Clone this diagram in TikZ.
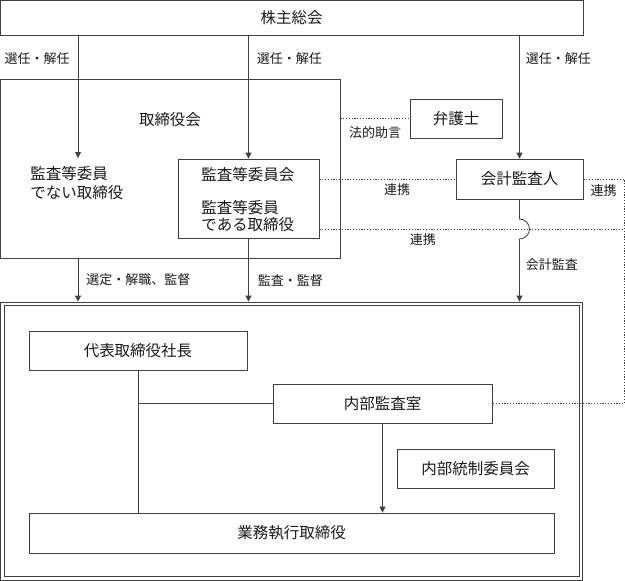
\documentclass[tikz,border=0pt]{standalone}
\usepackage{fontspec}
\setmainfont{Noto Sans CJK JP}
\usetikzlibrary{arrows.meta,calc,positioning}
\newcommand{\boxfont}{\fontsize{15.5}{19}\selectfont}
\newcommand{\lblfont}{\fontsize{13}{15}\selectfont}
\tikzset{box/.style={draw, rectangle, inner sep=0pt, font=\boxfont}}
\tikzstyle{lbl}=[font=\lblfont, inner sep=0pt]
\tikzstyle{link}=[dash pattern=on 1.2pt off 1.6pt]

\begin{document}
\begin{tikzpicture}[x=1pt, y=1pt, >={Triangle[length=6pt,width=6pt]}, line width=0.8pt, color=black!75, text=black!90]
\useasboundingbox (0,0) rectangle (625,-581);
\node[box, minimum width=583pt, minimum height=35pt] (soukai) at (291.5,-17.5) {株主総会};
\node[box, minimum width=340pt, minimum height=179pt] (board) at (170,-168.5) {};
\node[font=\boxfont, inner sep=0pt] (boardname) at (170,-120) {取締役会};
\node[anchor=west, align=left, font=\boxfont, inner sep=0pt] (nonkansa) at (30,-183) {監査等委員\\でない取締役};
\coordinate (nonkansatop) at (78,-158);
\node[box, minimum width=141pt, minimum height=79pt] (kansa) at (248.5,-198.5) {};
\node[anchor=west, font=\boxfont, inner sep=0pt] (kansakai) at (201,-175) {監査等委員会};
\node[anchor=west, align=left, font=\fontsize{15.5}{17}\selectfont, inner sep=0pt] (kansatori) at (201,-216.5) {監査等委員\\である取締役};
\node[box, minimum width=92pt, minimum height=39pt] (bengoshi) at (456,-118.5) {弁護士};
\node[box, minimum width=127pt, minimum height=40pt] (kaikei) at (519.5,-179) {会計監査人};
\coordinate (edgeR) at (624,-229);
% executive side
\node[draw, minimum width=582pt, minimum height=278pt, inner sep=0pt] (shikko) at (291.5,-441) {};
\draw ($(shikko.north west)+(4,-4)$) rectangle ($(shikko.south east)+(-4,4)$);
\node[box, minimum width=218pt, minimum height=39pt] (daihyo) at (138,-350.5) {代表取締役社長};
\node[box, minimum width=219pt, minimum height=39pt] (naibu) at (382.5,-403.5) {内部監査室};
\node[box, minimum width=157pt, minimum height=39pt] (tousei) at (475.5,-468.5) {内部統制委員会};
\node[box, minimum width=525pt, minimum height=40pt] (gyomu) at (291.5,-533) {業務執行取締役};

\path[->] (soukai.south -| nonkansatop) edge node[lbl, anchor=east, pos=0.19, xshift=-8pt] (sen1) {選任・解任} (nonkansatop)
	(soukai.south -| kansa.north) edge node[lbl, anchor=west, pos=0.19, xshift=8pt] (sen2) {選任・解任} (kansa.north)
	(soukai.south -| kaikei.north) edge node[lbl, anchor=west, pos=0.19, xshift=6pt] (sen3) {選任・解任} (kaikei.north)
	(board.south -| nonkansatop) edge node[lbl, anchor=west, xshift=8pt] (sentei) {選定・解職、監督} (nonkansatop |- shikko.north)
	(kansa.south) edge node[lbl, anchor=west, pos=0.66, xshift=9pt] (kansatoku) {監査・監督} (kansa.south |- shikko.north);
\draw[->] (kaikei.south) -- ($(kaikei.south |- edgeR)+(0,10)$) arc[start angle=90, end angle=-90, radius=10pt]
	-- node[lbl, anchor=west, pos=0.41, xshift=6pt] (kaikeikansa) {会計監査} (kaikei.south |- shikko.north);

\draw[link] (bengoshi.west -| board.east) -- node[lbl, anchor=north, yshift=-7.5pt] (houteki) {法的助言} (bengoshi.west);
\draw[link] (kansa.east |- kaikei.west) -- node[lbl, anchor=north, pos=0.57, yshift=-4.5pt] (renkei1) {連携} (kaikei.west);
\draw[link] (kansa.east |- edgeR) -- node[lbl, anchor=north, pos=0.34, yshift=-4.5pt] (renkei2) {連携} (edgeR);
\draw[link] (kaikei.east) -- node[lbl, anchor=north, yshift=-5pt] (renkei3) {連携} (edgeR |- kaikei.east)
	-- (edgeR |- naibu.east) -- (naibu.east);

\draw (daihyo.south) -- (daihyo.south |- gyomu.north);
\draw (daihyo.south |- naibu.west) -- (naibu.west);
\draw[->] (naibu.south) -- (naibu.south |- gyomu.north);
\end{tikzpicture}
\end{document}
